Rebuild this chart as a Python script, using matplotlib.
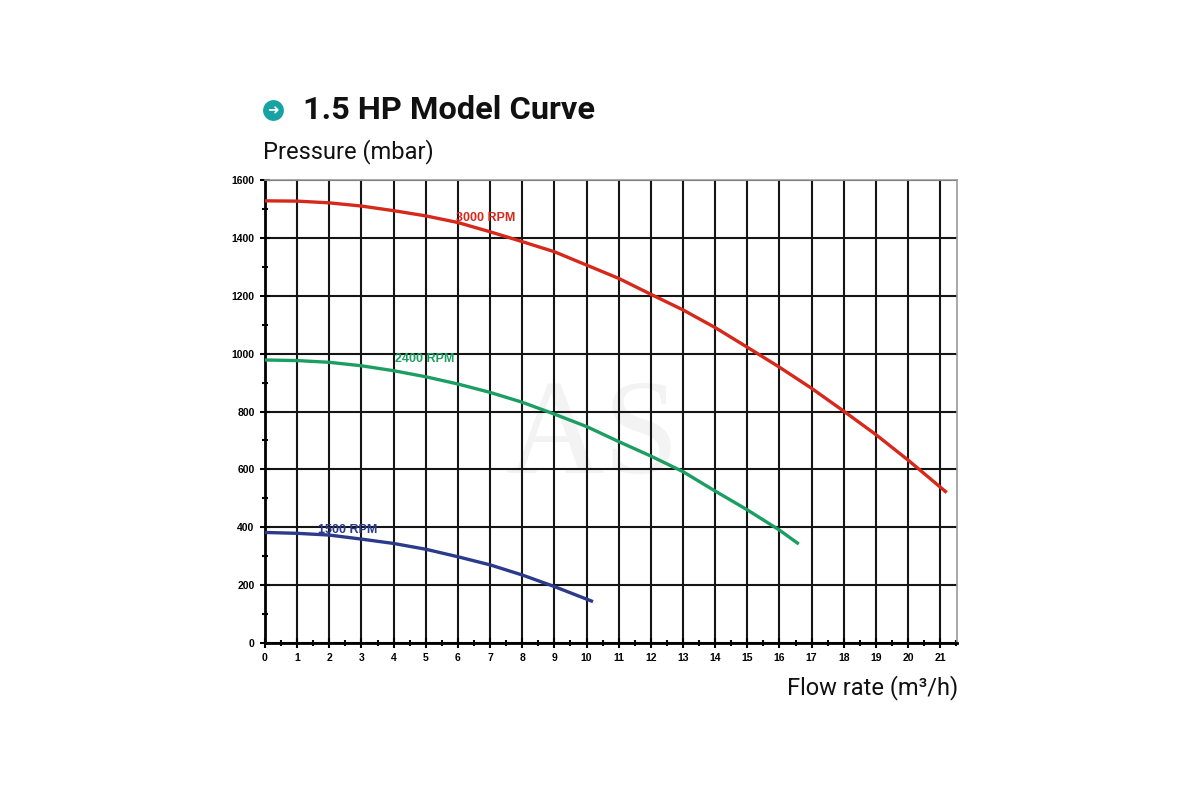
import matplotlib
matplotlib.use("Agg")
import matplotlib.pyplot as plt
from matplotlib.lines import Line2D
from matplotlib.ticker import MultipleLocator
import numpy as np

# ---- data ----
flow_3000 = [0, 1, 2, 3, 4, 5, 6, 7, 8, 9, 10, 11, 12, 13, 14, 15, 16, 17, 18, 19, 20, 21.2]
pres_3000 = [1528, 1527, 1521, 1510, 1494, 1476, 1453, 1421, 1387, 1352, 1306, 1260, 1205, 1151, 1090, 1022, 953, 880, 801, 720, 632, 520]

flow_2400 = [0, 1, 2, 3, 4, 5, 6, 7, 8, 9, 10, 11, 12, 13, 14, 15, 16, 16.6]
pres_2400 = [978, 976, 970, 958, 941, 920, 895, 866, 832, 791, 748, 696, 646, 592, 525, 460, 390, 342]

flow_1500 = [0, 1, 2, 3, 4, 5, 6, 7, 8, 9, 10.2]
pres_1500 = [382, 379, 373, 359, 344, 324, 298, 270, 235, 195, 143]

series_labels = ["3000 RPM", "2400 RPM", "1500 RPM"]
label_pos = [(6.87, 1468), (4.98, 982), (2.57, 390)]
colors = ["#d6281b", "#1c9e63", "#2b3a8a"]

x_ticks = list(range(0, 22))
y_ticks = list(range(0, 1601, 200))

title = "1.5 HP Model Curve"
y_label = "Pressure (mbar)"
x_label = "Flow rate (m\u00b3/h)"

# ---- figure ----
fig = plt.figure(figsize=(12, 8), dpi=100)
fig.patch.set_facecolor("white")
ax = fig.add_axes([265/1200, 1 - 643/800, (957-265)/1200, (643-180)/800])

ax.set_xlim(0, 21.52)
ax.set_ylim(0, 1600)

# watermark
ax.text(10.2, 700, "AS", fontsize=98, family="Liberation Serif", color="#f3f3f3",
        ha="center", va="center", zorder=0)

# grid
ax.set_xticks(x_ticks)
ax.set_yticks(y_ticks)
ax.xaxis.set_minor_locator(MultipleLocator(0.5))
ax.yaxis.set_minor_locator(MultipleLocator(100))
ax.grid(True, which="major", color="#151515", linewidth=1.5, zorder=1)
ax.set_axisbelow(True)

for sp in ["top", "right"]:
    ax.spines[sp].set_color("#9a9a9a")
    ax.spines[sp].set_linewidth(1.2)
for sp in ["left", "bottom"]:
    ax.spines[sp].set_color("#000000")
    ax.spines[sp].set_linewidth(2.0)

ax.tick_params(axis="both", which="major", direction="inout", length=7, width=1.5,
               labelsize=7.5, pad=4, colors="#000000")
ax.tick_params(axis="both", which="minor", direction="inout", length=5, width=1.5)
for lab in ax.get_xticklabels() + ax.get_yticklabels():
    lab.set_fontweight("bold")
    lab.set_family("Liberation Sans")

# curves
for fx, py, c in zip([flow_3000, flow_2400, flow_1500], [pres_3000, pres_2400, pres_1500], colors):
    ax.plot(fx, py, color=c, linewidth=2.4, solid_capstyle="butt", solid_joinstyle="round", zorder=3)

for lab, (lx, ly), c in zip(series_labels, label_pos, colors):
    ax.text(lx, ly, lab, color=c, fontsize=9, fontweight="bold", family="Liberation Sans",
            ha="center", va="center", zorder=4)

# title, icon & axis labels
fig.text(303/1200, 1 - 110/800, title, fontsize=23.4, fontweight="bold", family="Roboto",
         color="#111111", ha="left", va="center")
icon = Line2D([273/1200], [1 - 110/800], marker="o", markersize=15,
              markerfacecolor="#17a2a4", markeredgecolor="none", transform=fig.transFigure)
fig.add_artist(icon)
fig.text(273.5/1200, 1 - 110.5/800, "\u279c", fontsize=10, color="white", fontweight="bold",
         ha="center", va="center", family="DejaVu Sans")

fig.text(263/1200, 1 - 152/800, y_label, fontsize=17, family="Roboto",
         color="#111111", ha="left", va="center")
fig.text(958/1200, 1 - 688/800, x_label, fontsize=17, family="Roboto",
         color="#111111", ha="right", va="center")

fig.savefig("out.png", dpi=100, facecolor="white")
